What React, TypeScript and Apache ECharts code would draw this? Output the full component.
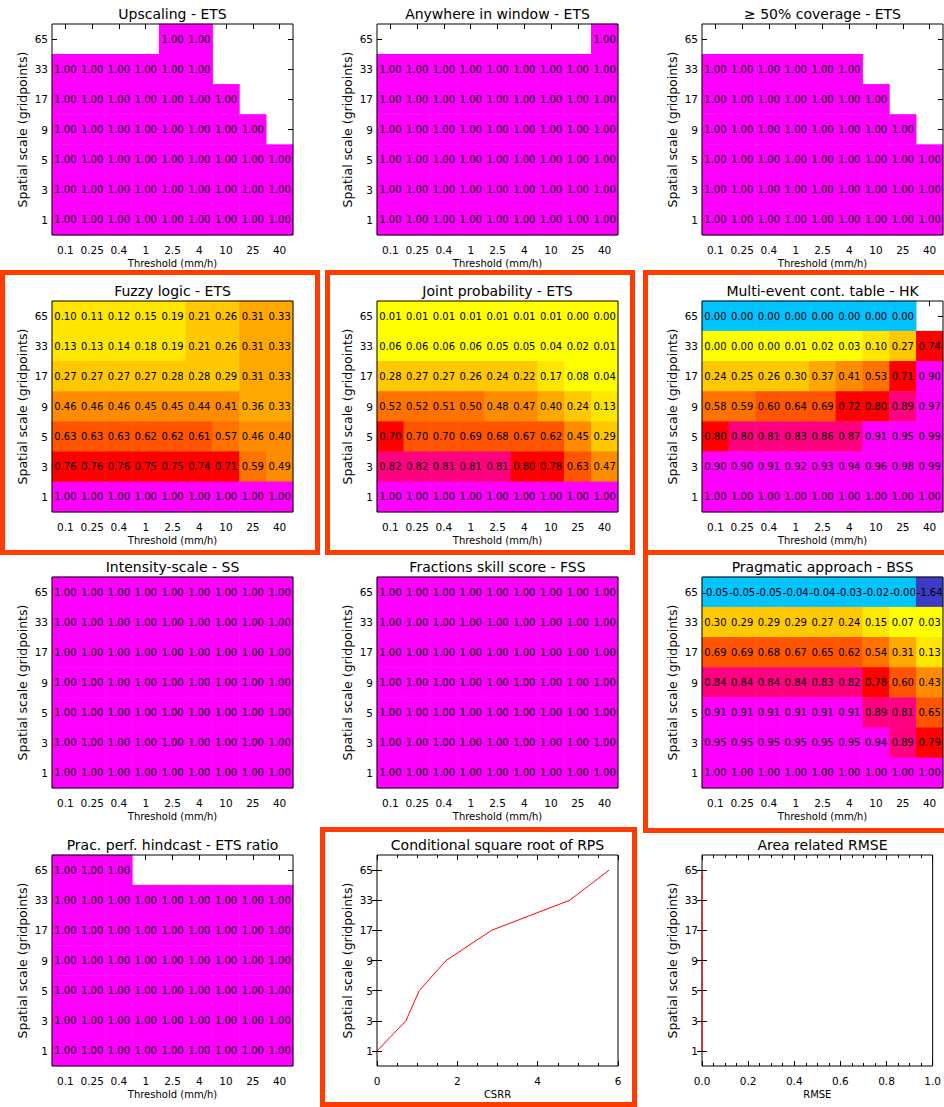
import React, { useEffect, useRef } from "react";
import * as echarts from "echarts";

// Category axes shared by every score panel
const thresholds = ["0.1", "0.25", "0.4", "1", "2.5", "4", "10", "25", "40"];
const scales = ["1", "3", "5", "9", "17", "33", "65"];

// Score tables: rows run from scale 65 (top) down to scale 1 (bottom); null = no score
const fullRow = [1, 1, 1, 1, 1, 1, 1, 1, 1];

const upscalingEts = [
  [null, null, null, null, 1, 1, null, null, null],
  [1, 1, 1, 1, 1, 1, null, null, null],
  [1, 1, 1, 1, 1, 1, 1, null, null],
  [1, 1, 1, 1, 1, 1, 1, 1, null],
  fullRow,
  fullRow,
  fullRow,
];

const anywhereEts = [
  [null, null, null, null, null, null, null, null, 1],
  fullRow,
  fullRow,
  fullRow,
  fullRow,
  fullRow,
  fullRow,
];

const coverageEts = [
  [null, null, null, null, null, null, null, null, null],
  [1, 1, 1, 1, 1, 1, null, null, null],
  [1, 1, 1, 1, 1, 1, 1, null, null],
  [1, 1, 1, 1, 1, 1, 1, 1, null],
  fullRow,
  fullRow,
  fullRow,
];

const fuzzyEts = [
  [0.10, 0.11, 0.12, 0.15, 0.19, 0.21, 0.26, 0.31, 0.33],
  [0.13, 0.13, 0.14, 0.18, 0.19, 0.21, 0.26, 0.31, 0.33],
  [0.27, 0.27, 0.27, 0.27, 0.28, 0.28, 0.29, 0.31, 0.33],
  [0.46, 0.46, 0.46, 0.45, 0.45, 0.44, 0.41, 0.36, 0.33],
  [0.63, 0.63, 0.63, 0.62, 0.62, 0.61, 0.57, 0.46, 0.402],
  [0.76, 0.76, 0.76, 0.75, 0.75, 0.74, 0.71, 0.59, 0.49],
  [1.00, 1.00, 1.00, 1.00, 1.00, 1.00, 1.00, 1.00, 1.00],
];

const jointEts = [
  [0.01, 0.01, 0.01, 0.01, 0.01, 0.01, 0.01, 0.003, 0.002],
  [0.06, 0.06, 0.06, 0.06, 0.05, 0.05, 0.04, 0.02, 0.01],
  [0.28, 0.27, 0.27, 0.26, 0.24, 0.22, 0.17, 0.08, 0.04],
  [0.52, 0.52, 0.51, 0.502, 0.48, 0.47, 0.398, 0.24, 0.13],
  [0.702, 0.699, 0.698, 0.69, 0.68, 0.67, 0.62, 0.45, 0.29],
  [0.82, 0.82, 0.81, 0.81, 0.81, 0.798, 0.78, 0.63, 0.47],
  [1.00, 1.00, 1.00, 1.00, 1.00, 1.00, 1.00, 1.00, 1.00],
];

const multiEventHk = [
  [0, 0, 0, 0, 0, 0, 0, 0, null],
  [0.002, 0.003, 0.004, 0.01, 0.02, 0.03, 0.10, 0.27, 0.74],
  [0.24, 0.25, 0.26, 0.298, 0.37, 0.41, 0.53, 0.71, 0.902],
  [0.58, 0.59, 0.602, 0.64, 0.69, 0.72, 0.798, 0.89, 0.97],
  [0.799, 0.801, 0.81, 0.83, 0.86, 0.87, 0.91, 0.95, 0.99],
  [0.902, 0.901, 0.91, 0.92, 0.93, 0.94, 0.96, 0.98, 0.99],
  [1.00, 1.00, 1.00, 1.00, 1.00, 1.00, 1.00, 1.00, 1.00],
];

const intensitySs = [fullRow, fullRow, fullRow, fullRow, fullRow, fullRow, fullRow];

const fractionsFss = [fullRow, fullRow, fullRow, fullRow, fullRow, fullRow, fullRow];

const pragmaticBss = [
  [-0.05, -0.05, -0.05, -0.04, -0.04, -0.03, -0.02, -0.002, -1.64],
  [0.298, 0.29, 0.29, 0.29, 0.27, 0.24, 0.15, 0.07, 0.03],
  [0.69, 0.69, 0.68, 0.67, 0.65, 0.62, 0.54, 0.31, 0.13],
  [0.84, 0.84, 0.84, 0.84, 0.83, 0.82, 0.78, 0.602, 0.43],
  [0.91, 0.91, 0.91, 0.91, 0.91, 0.91, 0.89, 0.81, 0.65],
  [0.95, 0.95, 0.95, 0.95, 0.95, 0.95, 0.94, 0.89, 0.79],
  [1.00, 1.00, 1.00, 1.00, 1.00, 1.00, 1.00, 1.00, 1.00],
];

const pracPerfRatio = [
  [1, 1, 1, null, null, null, null, null, null],
  fullRow,
  fullRow,
  fullRow,
  fullRow,
  fullRow,
  fullRow,
];

// Profiles against spatial scale, listed from scale 1 up to scale 65
const csrrValues = [0.0, 0.72, 1.05, 1.72, 2.85, 4.8, 5.78];
const rmseValues = [0, 0, 0, 0, 0, 0, 0];
const csrrRange = { min: 0, max: 6, step: 2 };
const rmseRange = { min: 0, max: 1, step: 0.2 };

type Panel =
  | { kind: "heat"; title: string; rows: (number | null)[][] }
  | {
      kind: "line";
      title: string;
      values: number[];
      range: { min: number; max: number; step: number };
      xName: string;
      digits: number;
    };

const panels: Panel[] = [
  { kind: "heat", title: "Upscaling - ETS", rows: upscalingEts },
  { kind: "heat", title: "Anywhere in window - ETS", rows: anywhereEts },
  { kind: "heat", title: "\u2265 50% coverage - ETS", rows: coverageEts },
  { kind: "heat", title: "Fuzzy logic - ETS", rows: fuzzyEts },
  { kind: "heat", title: "Joint probability - ETS", rows: jointEts },
  { kind: "heat", title: "Multi-event cont. table - HK", rows: multiEventHk },
  { kind: "heat", title: "Intensity-scale - SS", rows: intensitySs },
  { kind: "heat", title: "Fractions skill score - FSS", rows: fractionsFss },
  { kind: "heat", title: "Pragmatic approach - BSS", rows: pragmaticBss },
  { kind: "heat", title: "Prac. perf. hindcast - ETS ratio", rows: pracPerfRatio },
  { kind: "line", title: "Conditional square root of RPS", values: csrrValues, range: csrrRange, xName: "CSRR", digits: 0 },
  { kind: "line", title: "Area related RMSE", values: rmseValues, range: rmseRange, xName: "RMSE", digits: 1 },
];

// Layout of the 3 x 4 panel grid
const FONT = "DejaVu Sans";
const COL_LEFT = [52, 377, 702];
const ROW_TOP = [24, 301, 577, 855];
const PLOT_W = 241;
const PLOT_H = 211;
const HIGHLIGHT = "#ff3c00";

// Highlight frames around selected panels (x, y, width, height of the stroke centre line)
const frames = [
  [2.5, 272.5, 315, 280],
  [327.5, 272.5, 305, 280],
  [645.5, 272.5, 310, 280],
  [645.5, 552.5, 310, 278],
  [322.5, 829.5, 312, 275],
];

const colourPieces = [
  { lt: -1, color: "#3c3cc4" },
  { gte: -1, lte: 0, color: "#00c3ff" },
  { gt: 0, lt: 0.1, color: "#ffff00" },
  { gte: 0.1, lt: 0.2, color: "#ffe600" },
  { gte: 0.2, lt: 0.3, color: "#ffc800" },
  { gte: 0.3, lt: 0.4, color: "#ffa800" },
  { gte: 0.4, lt: 0.5, color: "#ff8c00" },
  { gte: 0.5, lt: 0.6, color: "#ff7200" },
  { gte: 0.6, lt: 0.7, color: "#ff5500" },
  { gte: 0.7, lt: 0.8, color: "#ff0000" },
  { gte: 0.8, lt: 0.9, color: "#ff0080" },
  { gte: 0.9, color: "#ff00ff" },
];

function buildOption() {
  const grid: any[] = [];
  const xAxis: any[] = [];
  const yAxis: any[] = [];
  const series: any[] = [];
  const title: any[] = [];
  const heatSeries: number[] = [];

  const tick = { show: true, inside: true, length: 5, lineStyle: { color: "#000", width: 1 } };
  const tickLabel = { color: "#000", fontSize: 10.5, fontFamily: FONT };
  const yName = {
    name: "Spatial scale (gridpoints)",
    nameLocation: "middle",
    nameRotate: 90,
    nameGap: 23,
    nameTextStyle: { color: "#000", fontSize: 12.5, fontFamily: FONT },
  };

  panels.forEach((p, i) => {
    const left = COL_LEFT[i % 3];
    const top = ROW_TOP[Math.floor(i / 3)];
    grid.push({
      left,
      top,
      width: PLOT_W,
      height: PLOT_H,
      show: true,
      backgroundColor: "transparent",
      borderColor: "#000",
      borderWidth: 1,
      z: 10,
    });
    title.push({
      text: p.title,
      left: left + PLOT_W / 2,
      top: top - 17,
      textAlign: "center",
      padding: 0,
      textStyle: { color: "#000", fontSize: 14, fontWeight: "normal", fontFamily: FONT },
    });

    // left / right scale axes (categories, ticks at band centres)
    yAxis.push({
      type: "category",
      gridIndex: i,
      data: scales,
      position: "left",
      axisLine: { show: false },
      axisTick: { ...tick, alignWithLabel: true, interval: 0 },
      axisLabel: { ...tickLabel, interval: 0, margin: 4 },
      splitLine: { show: false },
      ...yName,
    });
    yAxis.push({
      type: "category",
      gridIndex: i,
      data: scales,
      position: "right",
      axisLine: { show: false },
      axisTick: { ...tick, alignWithLabel: true, interval: 0 },
      axisLabel: { show: false },
      splitLine: { show: false },
    });

    if (p.kind === "heat") {
      xAxis.push({
        type: "category",
        gridIndex: i,
        data: thresholds,
        position: "bottom",
        axisLine: { show: false },
        axisTick: { ...tick, alignWithLabel: true, interval: 0 },
        axisLabel: { ...tickLabel, interval: 0, margin: 9 },
        splitLine: { show: false },
        name: "Threshold (mm/h)",
        nameLocation: "middle",
        nameGap: 23,
        nameTextStyle: { color: "#000", fontSize: 10, fontFamily: FONT },
      });
      xAxis.push({
        type: "category",
        gridIndex: i,
        data: thresholds,
        position: "top",
        axisLine: { show: false },
        axisTick: { ...tick, alignWithLabel: true, interval: 0 },
        axisLabel: { show: false },
        splitLine: { show: false },
      });

      const data: [number, number, number][] = [];
      p.rows.forEach((row, r) => {
        row.forEach((v, c) => {
          if (v !== null) data.push([c, scales.length - 1 - r, v]);
        });
      });
      heatSeries.push(series.length);
      series.push({
        type: "heatmap",
        xAxisIndex: 2 * i,
        yAxisIndex: 2 * i,
        data,
        silent: true,
        emphasis: { disabled: true },
        itemStyle: { borderWidth: 0 },
        label: {
          show: true,
          color: "#000",
          fontSize: 10,
          fontFamily: FONT,
          formatter: (q: any) => Number(q.value[2]).toFixed(2),
        },
      });
    } else {
      const valueAxis = {
        type: "value",
        gridIndex: i,
        min: p.range.min,
        max: p.range.max,
        interval: p.range.step,
        axisLine: { show: false },
        axisTick: tick,
        minorTick: { show: true, splitNumber: 4, length: 3, lineStyle: { color: "#000", width: 1 } },
        splitLine: { show: false },
        minorSplitLine: { show: false },
      };
      const digits = p.digits;
      xAxis.push({
        ...valueAxis,
        position: "bottom",
        axisLabel: { ...tickLabel, margin: 9, formatter: (v: number) => v.toFixed(digits) },
        name: p.xName,
        nameLocation: "middle",
        nameGap: 23,
        nameTextStyle: { color: "#000", fontSize: 10, fontFamily: FONT },
      });
      xAxis.push({ ...valueAxis, position: "top", axisLabel: { show: false } });
      series.push({
        type: "line",
        xAxisIndex: 2 * i,
        yAxisIndex: 2 * i,
        data: p.values.map((v, k) => [v, k]),
        symbol: "none",
        showSymbol: false,
        clip: false,
        silent: true,
        z: 20,
        lineStyle: { color: "#ff0000", width: 1 },
      });
    }
  });

  return {
    animation: false,
    backgroundColor: "#fff",
    title,
    grid,
    xAxis,
    yAxis,
    series,
    visualMap: {
      type: "piecewise",
      show: false,
      dimension: 2,
      seriesIndex: heatSeries,
      pieces: colourPieces,
    },
    graphic: {
      elements: frames.map(([x, y, w, h]) => ({
        type: "rect",
        shape: { x, y, width: w, height: h },
        style: { fill: "none", stroke: HIGHLIGHT, lineWidth: 5 },
        silent: true,
        z: 30,
      })),
    },
  };
}

export default function App() {
  const ref = useRef<HTMLDivElement>(null);
  useEffect(() => {
    if (!ref.current) return;
    const chart = echarts.init(ref.current, null, { renderer: "svg" });
    chart.setOption(buildOption() as any);
    return () => chart.dispose();
  }, []);
  return (
    <div
      ref={ref}
      style={{ position: "absolute", left: 0, top: 0, width: 944, height: 1107, background: "#fff" }}
    />
  );
}
